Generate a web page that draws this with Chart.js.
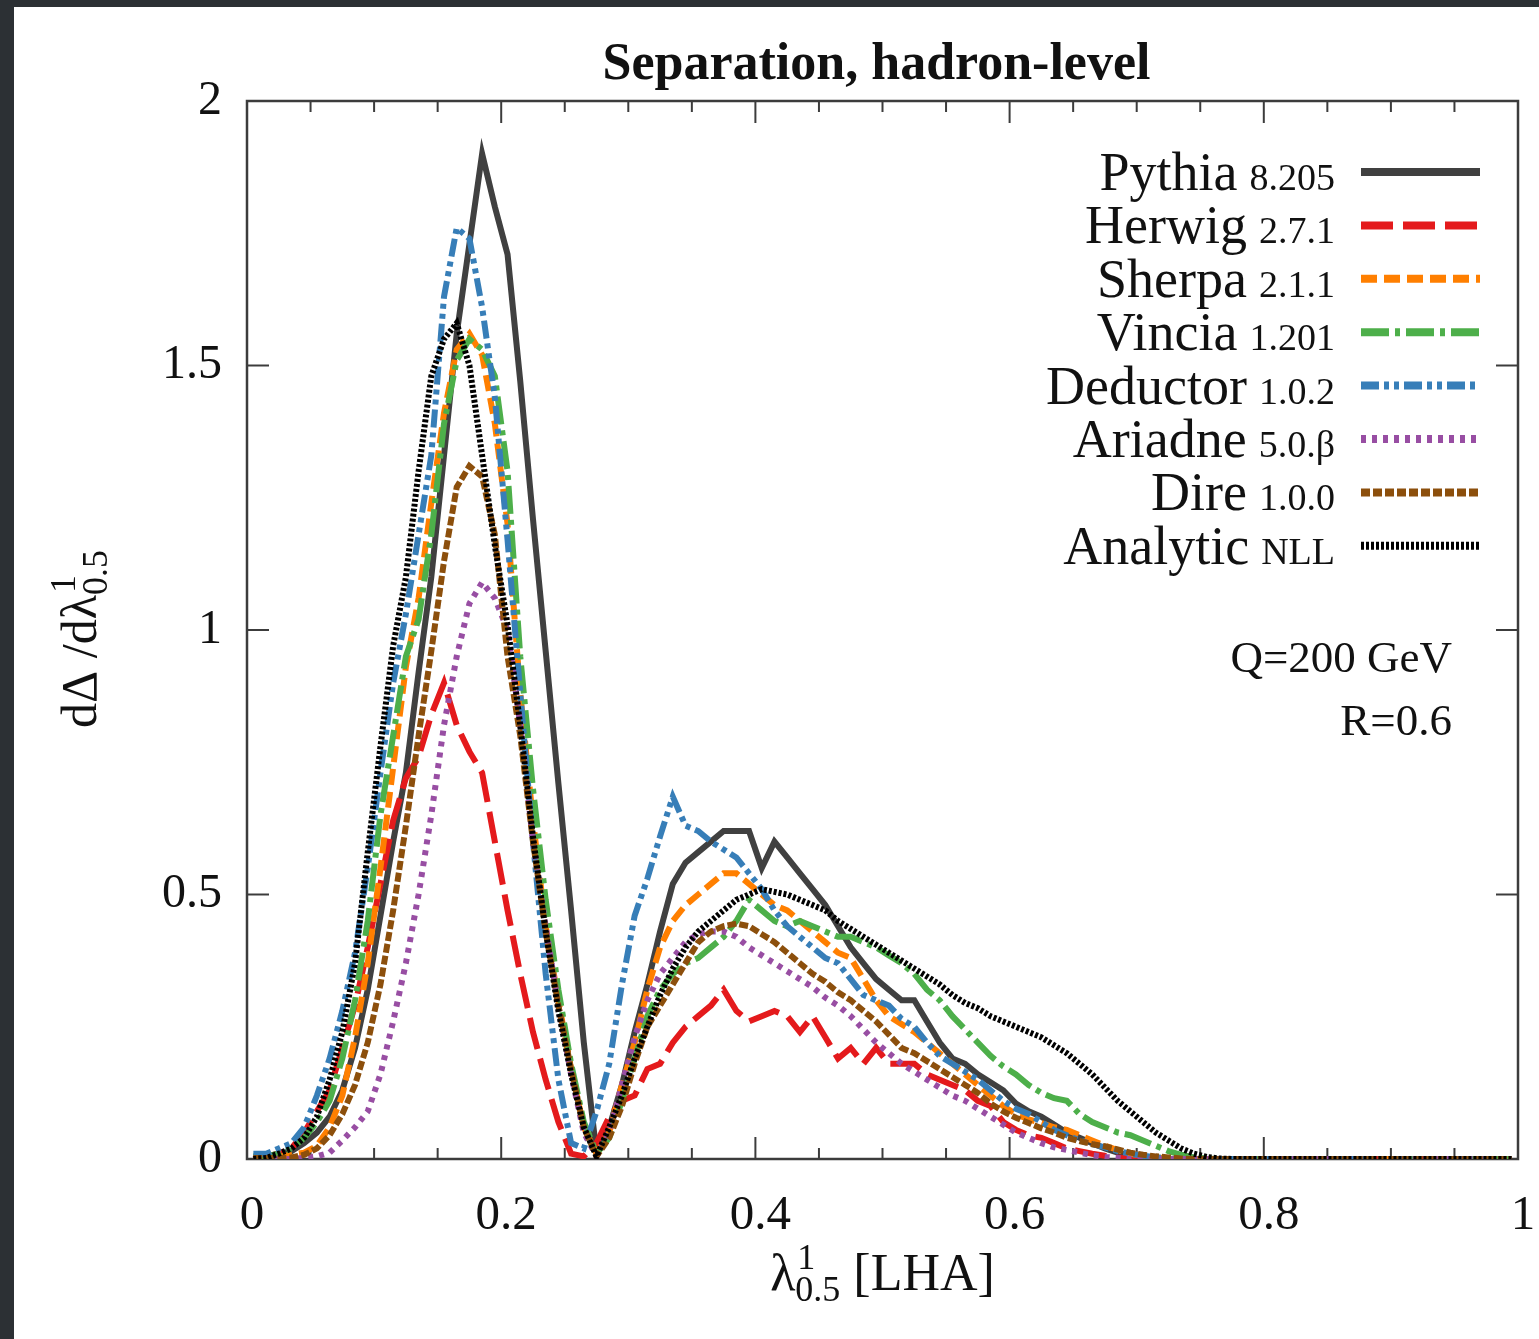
<!DOCTYPE html>
<html><head><meta charset="utf-8">
<script src="https://cdn.jsdelivr.net/npm/chart.js@4.4.0/dist/chart.umd.min.js"></script>
<style>
html,body{margin:0;padding:0;background:#2c3034;width:1539px;height:1339px;overflow:hidden}
#panel{position:absolute;left:14px;top:7px;width:1525px;height:1332px;background:#fff}
canvas{display:block}
</style></head><body>
<div id="panel"><canvas id="c" width="1525" height="1332"></canvas></div>
<script>
// bin centres of lambda^1_0.5
const lambdaX = [
0.005,0.015,0.025,0.035,0.045,0.055,0.065,0.075,0.085,0.095,
0.105,0.115,0.125,0.135,0.145,0.155,0.165,0.175,0.185,0.195,
0.205,0.215,0.225,0.235,0.245,0.255,0.265,0.275,0.285,0.295,
0.305,0.315,0.325,0.335,0.345,0.355,0.365,0.375,0.385,0.395,
0.405,0.415,0.425,0.435,0.445,0.455,0.465,0.475,0.485,0.495,
0.505,0.515,0.525,0.535,0.545,0.555,0.565,0.575,0.585,0.595,
0.605,0.615,0.625,0.635,0.645,0.655,0.665,0.675,0.685,0.695,
0.705,0.715,0.725,0.735,0.745,0.755,0.765,0.775,0.785,0.795,
0.995];

const pythia = [
0.003,0.005,0.01,0.015,0.03,0.05,0.08,0.13,0.21,0.32,
0.46,0.60,0.73,0.92,1.10,1.33,1.56,1.73,1.90,1.80,
1.71,1.47,1.21,0.96,0.71,0.47,0.22,0.01,0.06,0.14,
0.24,0.33,0.43,0.52,0.56,0.58,0.60,0.62,0.62,0.62,
0.55,0.60,0.57,0.54,0.51,0.48,0.44,0.40,0.37,0.34,
0.32,0.30,0.30,0.26,0.22,0.19,0.18,0.16,0.145,0.13,
0.105,0.09,0.08,0.065,0.05,0.04,0.03,0.02,0.012,0.006,
0.003,0,0,0,0,0,0,0,0,0,
0];
const herwig = [
0,0.005,0.01,0.02,0.05,0.09,0.13,0.21,0.29,0.40,
0.52,0.64,0.72,0.76,0.84,0.90,0.82,0.77,0.73,0.60,
0.47,0.35,0.24,0.15,0.07,0.01,0.005,0.03,0.08,0.11,
0.12,0.17,0.18,0.22,0.25,0.27,0.29,0.32,0.28,0.26,
0.27,0.28,0.27,0.24,0.27,0.23,0.19,0.21,0.18,0.21,
0.18,0.18,0.18,0.16,0.15,0.14,0.13,0.11,0.10,0.07,
0.055,0.045,0.04,0.03,0.02,0.015,0.01,0.006,0.003,0.001,
0,0,0,0,0,0,0,0,0,0,
0];
const sherpa = [
0,0.003,0.005,0.008,0.012,0.025,0.06,0.12,0.23,0.37,
0.55,0.74,0.93,1.06,1.24,1.41,1.53,1.56,1.52,1.39,
1.20,0.88,0.64,0.44,0.30,0.17,0.06,0.01,0.05,0.14,
0.22,0.32,0.40,0.45,0.48,0.50,0.52,0.54,0.54,0.52,
0.50,0.48,0.47,0.45,0.43,0.41,0.39,0.38,0.34,0.30,
0.27,0.255,0.24,0.22,0.20,0.18,0.16,0.14,0.12,0.10,
0.085,0.075,0.068,0.06,0.055,0.045,0.035,0.025,0.017,0.01,
0.006,0.003,0.001,0,0,0,0,0,0,0,
0];
const vincia = [
0.005,0.005,0.01,0.02,0.04,0.07,0.11,0.19,0.30,0.45,
0.65,0.80,0.95,1.02,1.18,1.39,1.51,1.55,1.53,1.48,
1.30,0.95,0.70,0.49,0.32,0.18,0.07,0.01,0.04,0.11,
0.19,0.27,0.32,0.35,0.37,0.38,0.40,0.42,0.45,0.49,
0.47,0.45,0.44,0.45,0.44,0.43,0.42,0.42,0.41,0.40,
0.385,0.37,0.35,0.32,0.30,0.27,0.245,0.22,0.195,0.175,
0.16,0.14,0.125,0.115,0.11,0.085,0.07,0.06,0.05,0.045,
0.035,0.025,0.015,0.008,0.003,0.001,0,0,0,0,
0];
const deductor = [
0.01,0.01,0.02,0.03,0.06,0.12,0.19,0.28,0.39,0.55,
0.73,0.90,1.03,1.18,1.33,1.63,1.76,1.74,1.61,1.44,
1.17,0.88,0.60,0.35,0.15,0.03,0.02,0.09,0.18,0.33,
0.46,0.53,0.61,0.685,0.63,0.62,0.60,0.585,0.57,0.54,
0.51,0.47,0.44,0.42,0.40,0.38,0.37,0.34,0.31,0.30,
0.29,0.265,0.25,0.22,0.195,0.18,0.165,0.15,0.13,0.11,
0.095,0.085,0.07,0.055,0.045,0.035,0.028,0.022,0.015,0.01,
0.006,0.003,0.001,0,0,0,0,0,0,0,
0];
const ariadne = [
0,0,0,0,0.002,0.005,0.012,0.035,0.06,0.09,
0.16,0.26,0.37,0.50,0.65,0.82,0.95,1.05,1.09,1.06,
1.00,0.82,0.60,0.44,0.29,0.16,0.05,0.005,0.05,0.14,
0.23,0.30,0.35,0.38,0.41,0.425,0.43,0.43,0.42,0.40,
0.385,0.37,0.355,0.34,0.325,0.305,0.29,0.27,0.245,0.22,
0.20,0.18,0.165,0.15,0.135,0.12,0.11,0.095,0.08,0.065,
0.05,0.04,0.03,0.022,0.017,0.012,0.007,0.004,0.002,0,
0,0,0,0,0,0,0,0,0,0,
0];
const dire = [
0.002,0.002,0.002,0.003,0.008,0.02,0.045,0.085,0.14,0.22,
0.33,0.47,0.63,0.80,0.96,1.13,1.27,1.31,1.29,1.18,
0.95,0.80,0.60,0.43,0.29,0.17,0.06,0.005,0.04,0.10,
0.18,0.25,0.29,0.33,0.37,0.41,0.43,0.44,0.445,0.44,
0.425,0.41,0.39,0.37,0.35,0.335,0.315,0.30,0.28,0.26,
0.235,0.21,0.20,0.185,0.17,0.155,0.14,0.125,0.105,0.09,
0.078,0.068,0.058,0.05,0.04,0.034,0.028,0.024,0.018,0.012,
0.008,0.005,0.003,0.001,0,0,0,0,0,0,
0];
const analyticNLL = [
0,0.002,0.01,0.02,0.04,0.08,0.15,0.24,0.37,0.58,
0.78,0.97,1.10,1.30,1.48,1.55,1.58,1.50,1.33,1.16,
1.01,0.82,0.61,0.43,0.28,0.16,0.06,0.005,0.06,0.12,
0.19,0.25,0.31,0.36,0.40,0.43,0.45,0.47,0.49,0.50,
0.51,0.505,0.50,0.49,0.48,0.47,0.45,0.435,0.42,0.405,
0.39,0.375,0.36,0.345,0.33,0.31,0.295,0.285,0.27,0.26,
0.25,0.24,0.23,0.215,0.20,0.18,0.16,0.135,0.11,0.09,
0.07,0.05,0.035,0.02,0.01,0.004,0.001,0,0,0,
0];

const legendNames = ['Pythia','Herwig','Sherpa','Vincia','Deductor','Ariadne','Dire','Analytic'];
const legendVersions = ['8.205','2.7.1','2.1.1','1.201','1.0.2','5.0.\u03B2','1.0.0','NLL'];
const xTickLabels = ['0','0.2','0.4','0.6','0.8','1'];
const yTickLabels = ['0','0.5','1','1.5','2'];
const xMajorTicks = [0.2,0.4,0.6,0.8];
const xMinorTicks = [0.05,0.1,0.15,0.25,0.3,0.35,0.45,0.5,0.55,0.65,0.7,0.75,0.85,0.9,0.95];
const yMajorTicks = [0.5,1,1.5];

const seriesValues = [pythia, herwig, sherpa, vincia, deductor, ariadne, dire, analyticNLL];
const styles = [
  {color:'#404040', dash:[]},
  {color:'#e41a1c', dash:[32,10]},
  {color:'#ff7f00', dash:[16,7]},
  {color:'#4daf4a', dash:[28,6,5,6]},
  {color:'#377eb8', dash:[18,5,5,5,5,5]},
  {color:'#984ea3', dash:[5,6]},
  {color:'#8c4f0c', dash:[9,3]},
  {color:'#000000', dash:[3,2]}
];
const LW = 6;
const FONT = '"Liberation Serif", "Times New Roman", serif';

const datasets = seriesValues.map((vals, i) => ({
  label: legendNames[i] + ' ' + legendVersions[i],
  data: lambdaX.map((x, k) => ({x: x, y: vals[k]})),
  borderColor: styles[i].color,
  borderDash: styles[i].dash,
  borderWidth: LW,
  showLine: true,
  fill: false,
  pointRadius: 0,
  tension: 0,
  order: seriesValues.length - i
}));

function font(size, bold){ return (bold ? 'bold ' : '') + size + 'px ' + FONT; }

const framePlugin = {
  id: 'frame',
  beforeDatasetsDraw(chart){
    const {ctx, chartArea: a, scales: {x, y}} = chart;
    ctx.save();
    ctx.strokeStyle = '#3c3c3c';
    ctx.lineWidth = 2;
    const line = (x1,y1,x2,y2) => { ctx.beginPath(); ctx.moveTo(x1,y1); ctx.lineTo(x2,y2); ctx.stroke(); };
    xMajorTicks.forEach(v => { const p = x.getPixelForValue(v); line(p,a.bottom,p,a.bottom-22); line(p,a.top,p,a.top+22); });
    xMinorTicks.forEach(v => { const p = x.getPixelForValue(v); line(p,a.bottom,p,a.bottom-11); line(p,a.top,p,a.top+11); });
    yMajorTicks.forEach(v => { const p = y.getPixelForValue(v); line(a.left,p,a.left+22,p); line(a.right,p,a.right-22,p); });
    ctx.lineWidth = 2.5;
    ctx.strokeRect(a.left, a.top, a.right - a.left, a.bottom - a.top);
    ctx.restore();
  }
};

const textPlugin = {
  id: 'texts',
  afterDraw(chart){
    const ctx = chart.ctx;
    const a = chart.chartArea;
    ctx.save();
    ctx.fillStyle = '#111';
    ctx.textBaseline = 'alphabetic';
    // title
    ctx.font = font(52, true);
    ctx.textAlign = 'center';
    ctx.fillText('Separation, hadron-level', (a.left + a.right) / 2 - 6, 72);

    // legend
    const right = 1321, y0 = 165, dy = 53.4;
    for (let i = 0; i < legendNames.length; i++) {
      const yc = y0 + i * dy;
      ctx.textAlign = 'right';
      ctx.font = font(38);
      const wv = ctx.measureText(legendVersions[i]).width;
      ctx.fillText(legendVersions[i], right, yc + 18);
      ctx.font = font(54);
      ctx.fillText(legendNames[i], right - wv - 12, yc + 18);
      ctx.save();
      ctx.strokeStyle = styles[i].color;
      ctx.lineWidth = 8;
      ctx.lineCap = 'butt';
      ctx.setLineDash(styles[i].dash);
      ctx.beginPath(); ctx.moveTo(1347, yc); ctx.lineTo(1466, yc); ctx.stroke();
      ctx.restore();
    }

    // annotations
    ctx.textAlign = 'right';
    ctx.font = font(45);
    ctx.fillText('Q=200 GeV', 1438, 665);
    ctx.fillText('R=0.6', 1438, 728);

    function rich(parts, cx, base){
      let total = 0;
      const widths = parts.map(p => {
        ctx.font = font(p.size);
        if (p.stack) return Math.max(ctx.measureText(p.sup).width, ctx.measureText(p.sub).width);
        return ctx.measureText(p.t).width;
      });
      widths.forEach(w => total += w);
      let xx = cx - total / 2;
      ctx.textAlign = 'left';
      parts.forEach((p, i) => {
        ctx.font = font(p.size);
        if (p.stack) {
          ctx.fillText(p.sup, xx + 2, base - 21);
          ctx.fillText(p.sub, xx, base + 11);
        } else {
          ctx.fillText(p.t, xx, base);
        }
        xx += widths[i];
      });
    }
    rich([{t:'\u03BB', size:52}, {stack:true, sup:'1', sub:'0.5', size:36}, {t:' [LHA]', size:52}], (a.left + a.right) / 2, 1283);
    ctx.save();
    ctx.translate(82, 632);
    ctx.rotate(-Math.PI / 2);
    rich([{t:'d\u0394 /d\u03BB', size:50}, {stack:true, sup:'1', sub:'0.5', size:36}], 0, 0);
    ctx.restore();
    ctx.restore();
  }
};

new Chart(document.getElementById('c'), {
  type: 'scatter',
  data: { datasets },
  options: {
    responsive: false,
    animation: false,
    devicePixelRatio: 1,
    layout: { padding: { left: 133, right: 21, top: 94, bottom: 80 } },
    plugins: { legend: { display: false }, tooltip: { enabled: false }, title: { display: false } },
    elements: { point: { radius: 0 }, line: { tension: 0, borderCapStyle: 'butt', borderJoinStyle: 'miter' } },
    scales: {
      x: {
        type: 'linear', min: 0, max: 1,
        ticks: { stepSize: 0.2, font: { family: FONT, size: 49 }, color: '#111', padding: 28, maxRotation: 0,
                 labelOffset: 5, callback: (v, i) => xTickLabels[i] },
        grid: { display: false, drawTicks: false },
        border: { display: false },
        afterFit(s) { s.height = 100; s.paddingLeft = 0; s.paddingRight = 0; }
      },
      y: {
        type: 'linear', min: 0, max: 2,
        ticks: { stepSize: 0.5, font: { family: FONT, size: 48 }, color: '#111', padding: 25,
                 callback: (v, i) => yTickLabels[i] },
        grid: { display: false, drawTicks: false },
        border: { display: false },
        afterFit(s) { s.width = 100; s.paddingTop = 0; s.paddingBottom = 0; }
      }
    }
  },
  plugins: [framePlugin, textPlugin]
});
</script>
</body></html>
